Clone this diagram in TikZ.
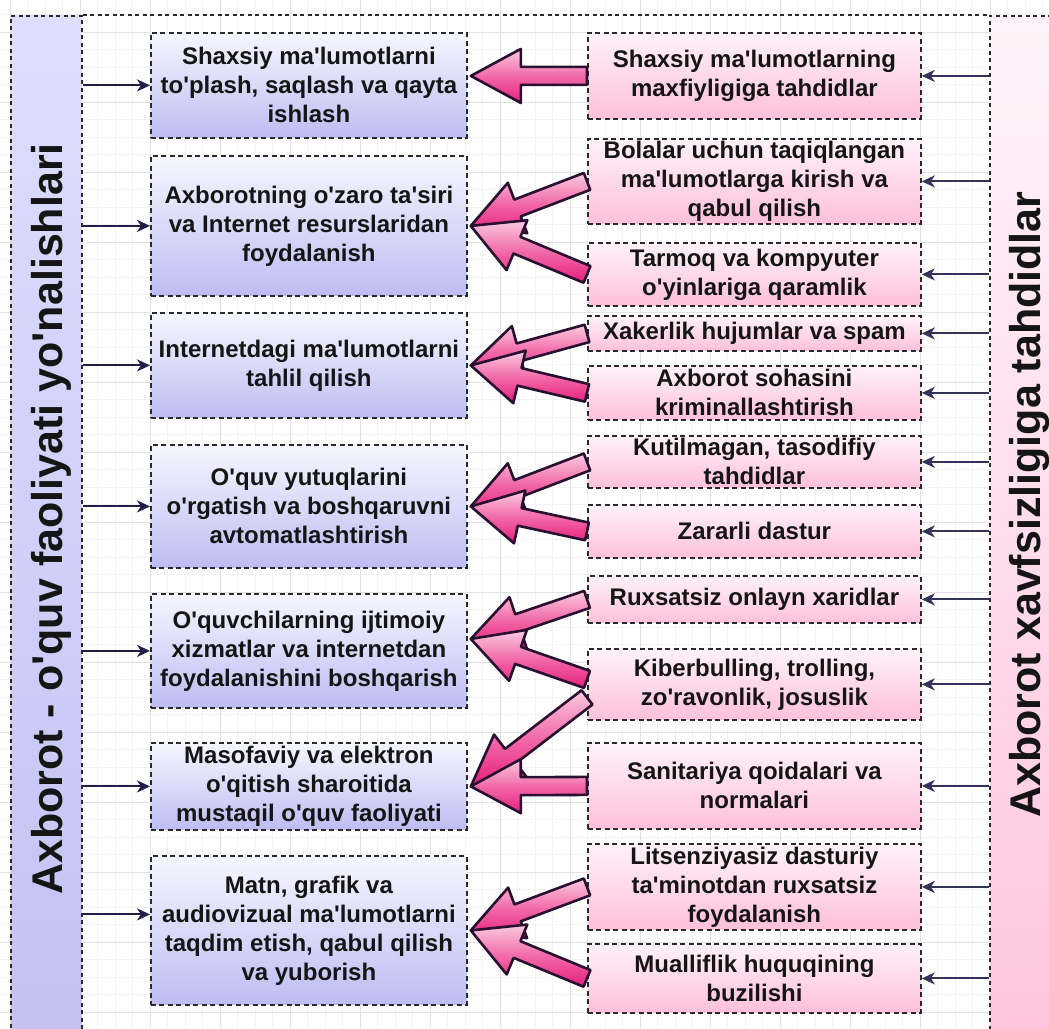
\documentclass[tikz,border=0pt]{standalone}
\usepackage{fontspec}
\setmainfont{Liberation Sans}[Ligatures=TeXOff]
\usetikzlibrary{calc,arrows.meta}
\definecolor{boxline}{HTML}{2A2A2A}
\definecolor{textc}{HTML}{151515}
\definecolor{blueTop}{HTML}{F6F6FF}
\definecolor{blueBot}{HTML}{BDBDF3}
\definecolor{pinkTop}{HTML}{FFF2F8}
\definecolor{pinkBot}{HTML}{FFC0DA}
\definecolor{laneLTop}{HTML}{DEDEFF}
\definecolor{laneLBot}{HTML}{C0C0F2}
\definecolor{laneRTop}{HTML}{FFF4F9}
\definecolor{laneRBot}{HTML}{FFC2DB}
\definecolor{arrL}{HTML}{FACBE0}
\definecolor{arrM}{HTML}{F26AA8}
\definecolor{arrD}{HTML}{E61E7C}
\definecolor{arrline}{HTML}{2A1030}
\definecolor{lanearrc}{HTML}{1F1F4A}
\definecolor{lanearrc2}{HTML}{33335A}
\definecolor{gridminor}{HTML}{F3F3F3}
\definecolor{gridmajor}{HTML}{E2E2E2}
\newcommand\pinkarrow[2]{%
  \coordinate (pS) at (#1);
  \coordinate (pT) at (#2);
  \coordinate (pB) at ($(pT)!50pt!(pS)$);
  \path[parr] ($(pS)!9pt!90:(pT)$) -- ($(pB)!9pt!90:(pT)$) -- ($(pB)!27pt!90:(pT)$) -- (pT)
    -- ($(pB)!27pt!-90:(pT)$) -- ($(pB)!9pt!-90:(pT)$) -- ($(pS)!9pt!-90:(pT)$) -- cycle;}
\begin{document}
\begin{tikzpicture}[x=1pt,y=-1pt,
  bbox/.style={draw=boxline, line width=1.8pt, dash pattern=on 5pt off 3.5pt,
    top color=blueTop, bottom color=blueBot, minimum width=316pt, inner sep=0pt, anchor=north west},
  pbox/.style={draw=boxline, line width=1.8pt, dash pattern=on 5pt off 3.5pt,
    top color=pinkTop, bottom color=pinkBot, minimum width=333pt, inner sep=0pt, anchor=north west},
  txt/.style={font=\bfseries\fontsize{24pt}{29pt}\selectfont, align=center, text=textc, inner sep=0pt},
  lanetxt/.style={font=\bfseries\fontsize{43pt}{50pt}\selectfont, text=textc, inner sep=0pt, rotate=90, anchor=base},
  lane/.style={draw=boxline, line width=1.7pt, dash pattern=on 4pt off 3.5pt, inner sep=0pt, anchor=north west},
  lanearr/.style={draw=lanearrc, line width=2pt, -{Stealth[length=13pt,width=12pt,inset=4pt]}},
  lanearr2/.style={draw=lanearrc2, line width=2pt, -{Stealth[length=13pt,width=12pt,inset=4pt]}},
  parr/.style={draw=arrline, line width=2.6pt, line join=round, top color=arrL, bottom color=arrD, middle color=arrM},
]
\useasboundingbox (0,0) rectangle (1049,1028);
\clip (0,0) rectangle (1049,1028);
\fill[white] (0,0) rectangle (1049,1028);
% grid
\foreach \k in {0,...,61} {
  \draw[gridminor, line width=0.7pt] ({-7.5+17.5*\k},0) -- ({-7.5+17.5*\k},1028);
  \draw[gridminor, line width=0.7pt] (0,{-3+17.5*\k}) -- (1049,{-3+17.5*\k});
}
\foreach \k in {0,...,15} {
  \draw[gridmajor, line width=0.9pt] ({10+70*\k},0) -- ({10+70*\k},1028);
  \draw[gridmajor, line width=0.9pt] (0,{-38+70*\k}) -- (1049,{-38+70*\k});
}
% lanes
\node[lane, top color=laneLTop, bottom color=laneLBot, minimum width=71pt, minimum height=1100pt] (L) at (10,15) {};
\node[lane, top color=laneRTop, bottom color=laneRBot, minimum width=100pt, minimum height=1100pt] (R) at (989,15) {};
\draw[boxline, line width=1.7pt, dash pattern=on 4pt off 3.5pt] (L.north east) -- (R.north west);
\node[lanetxt] (LT) at (62,519) {Axborot - o'quv faoliyati yo'nalishlari};
\node[lanetxt] (RT) at (1040,504.5) {Axborot xavfsizligiga tahdidlar};
% blue boxes
\node[bbox, minimum height=105pt] (b1) at (150,32) {};
\node[bbox, minimum height=140pt] (b2) at (150,155) {};
\node[bbox, minimum height=105pt] (b3) at (150,312) {};
\node[bbox, minimum height=123pt] (b4) at (150,444) {};
\node[bbox, minimum height=114pt] (b5) at (150,593) {};
\node[bbox, minimum height=87pt] (b6) at (150,742) {};
\node[bbox, minimum height=149pt] (b7) at (150,855) {};
\node[txt] (tb1) at (b1) {Shaxsiy ma'lumotlarni\\to'plash, saqlash va qayta\\ishlash};
\node[txt] (tb2) at (b2) {Axborotning o'zaro ta'siri\\va Internet resurslaridan\\foydalanish};
\node[txt] (tb3) at (b3) {Internetdagi ma'lumotlarni\\tahlil qilish};
\node[txt] (tb4) at (b4) {O'quv yutuqlarini\\o'rgatish va boshqaruvni\\avtomatlashtirish};
\node[txt] (tb5) at (b5) {O'quvchilarning ijtimoiy\\xizmatlar va internetdan\\foydalanishini boshqarish};
\node[txt] (tb6) at (b6) {Masofaviy va elektron\\o'qitish sharoitida\\mustaqil o'quv faoliyati};
\node[txt] (tb7) at (b7) {Matn, grafik va\\audiovizual ma'lumotlarni\\taqdim etish, qabul qilish\\va yuborish};
% pink boxes
\node[pbox, minimum height=86pt] (p1) at (587,32) {};
\node[pbox, minimum height=85pt] (p2) at (587,138) {};
\node[pbox, minimum height=63pt] (p3) at (587,242) {};
\node[pbox, minimum height=35pt] (p4) at (587,315) {};
\node[pbox, minimum height=54pt] (p5) at (587,365) {};
\node[pbox, minimum height=52pt] (p6) at (587,435) {};
\node[pbox, minimum height=53pt] (p7) at (587,504) {};
\node[pbox, minimum height=47pt] (p8) at (587,575) {};
\node[pbox, minimum height=71pt] (p9) at (587,648) {};
\node[pbox, minimum height=86pt] (p10) at (587,742) {};
\node[pbox, minimum height=86pt] (p11) at (587,843) {};
\node[pbox, minimum height=69pt] (p12) at (587,943) {};
\node[txt] (tp1) at (p1) {Shaxsiy ma'lumotlarning\\maxfiyligiga tahdidlar};
\node[txt] (tp2) at (p2) {Bolalar uchun taqiqlangan\\ma'lumotlarga kirish va\\qabul qilish};
\node[txt] (tp3) at (p3) {Tarmoq va kompyuter\\o'yinlariga qaramlik};
\node[txt] (tp4) at (p4) {Xakerlik hujumlar va spam};
\node[txt] (tp5) at (p5) {Axborot sohasini\\kriminallashtirish};
\node[txt] (tp6) at (p6) {Kutilmagan, tasodifiy\\tahdidlar};
\node[txt] (tp7) at (p7) {Zararli dastur};
\node[txt] (tp8) at (p8) {Ruxsatsiz onlayn xaridlar};
\node[txt] (tp9) at (p9) {Kiberbulling, trolling,\\zo'ravonlik, josuslik};
\node[txt] (tp10) at (p10) {Sanitariya qoidalari va\\normalari};
\node[txt] (tp11) at (p11) {Litsenziyasiz dasturiy\\ta'minotdan ruxsatsiz\\foydalanish};
\node[txt] (tp12) at (p12) {Mualliflik huquqining\\buzilishi};
% left lane arrows
\foreach \b in {b1,b2,b3,b4,b5,b6} \draw[lanearr] (L.east |- \b.west) -- (\b.west);
\coordinate (b7in) at ([yshift=16pt]b7.west);
\draw[lanearr] (L.east |- b7in) -- (b7in);
% right lane arrows
\foreach \p in {p1,p2,p3,p4,p5,p6,p7,p8,p9,p10,p11,p12} \draw[lanearr2] (R.west |- \p.east) -- (\p.east);
% pink block arrows
\pinkarrow{p1.west}{$(b1.east |- p1.west)+(3,0)$}
\pinkarrow{p2.west}{[xshift=3pt]b2.east}
\pinkarrow{p3.west}{[xshift=3pt]b2.east}
\pinkarrow{p4.west}{[xshift=3pt]b3.east}
\pinkarrow{p5.west}{[xshift=3pt]b3.east}
\pinkarrow{p6.west}{[xshift=3pt]b4.east}
\pinkarrow{p7.west}{[xshift=3pt]b4.east}
\coordinate (b5tip) at ([xshift=3pt,yshift=12pt]b5.east);
\pinkarrow{p8.west}{b5tip}
\pinkarrow{[yshift=5pt]p9.west}{b5tip}
\pinkarrow{[yshift=-13pt]p9.west}{[xshift=3pt]b6.east}
\pinkarrow{p10.west}{[xshift=3pt]b6.east}
\pinkarrow{p11.west}{[xshift=3pt]b7.east}
\pinkarrow{p12.west}{[xshift=3pt]b7.east}
\end{tikzpicture}
\end{document}
